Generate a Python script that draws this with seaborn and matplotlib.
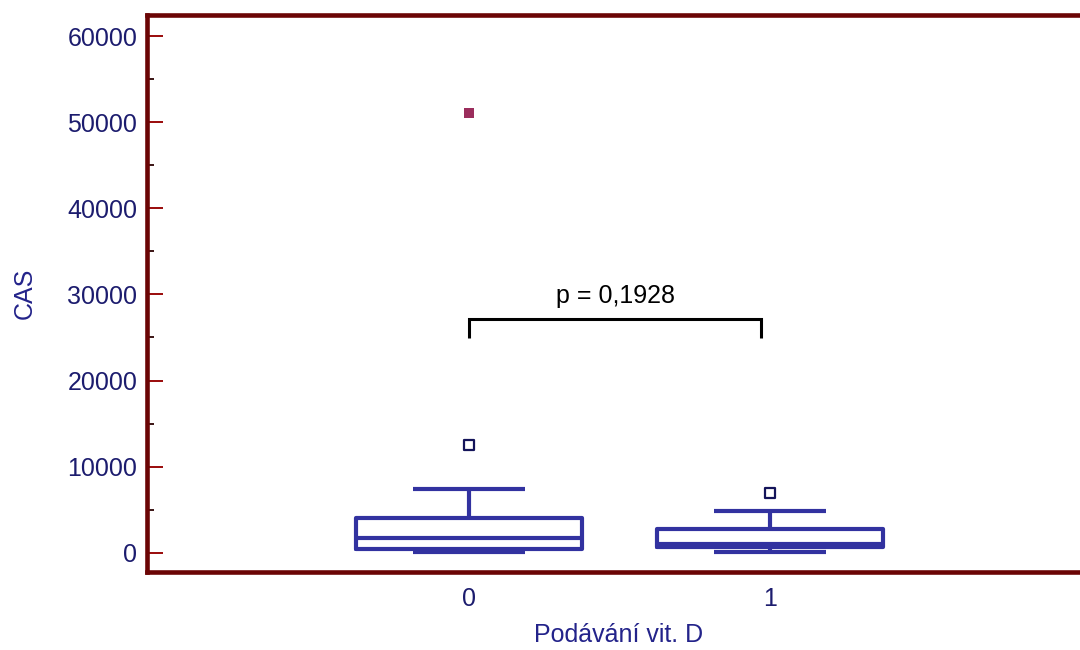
import numpy as np
import pandas as pd
import seaborn as sns
import matplotlib.pyplot as plt
from matplotlib.ticker import MultipleLocator

# Summary values per group of "Podávání vit. D"
groups = ["0", "1"]
whisker_low = [50, 50]
quartile_1 = [395, 627]
medians = [1672, 1010]
quartile_3 = [3995, 2718]
whisker_high = [7360, 4880]
outliers = [[12500, 51100], [6970]]

p_label = "p = 0,1928"
bracket_low = 24950
bracket_high = 27100
p_text_y = 28950

# Samples whose quartiles and whisker ends reproduce the summary values
rows = []
for g, lo, q1, med, q3, hi, out in zip(groups, whisker_low, quartile_1, medians,
                                       quartile_3, whisker_high, outliers):
    sample = [lo] + [q1] * 3 + [med] * 3 + [q3] * 3 + [hi] + list(out)
    rows += [(g, v) for v in sample]
df = pd.DataFrame(rows, columns=["vitD", "CAS"])

# Classify points beyond the whiskers: outside (1.5 IQR) and far out (3 IQR)
near_rows, far_rows = [], []
for g, sub in df.groupby("vitD"):
    q1v, q3v = np.percentile(sub["CAS"], [25, 75])
    iqr = q3v - q1v
    for v in sub["CAS"]:
        if v > q3v + 3 * iqr or v < q1v - 3 * iqr:
            far_rows.append((g, v))
        elif v > q3v + 1.5 * iqr or v < q1v - 1.5 * iqr:
            near_rows.append((g, v))
near_df = pd.DataFrame(near_rows, columns=["vitD", "CAS"])
far_df = pd.DataFrame(far_rows, columns=["vitD", "CAS"])

sns.set_style("white")
plt.rcParams["font.family"] = ["Liberation Sans", "DejaVu Sans"]

box_color = "#3232A0"
spine_color = "#6B0505"
label_color = "#1C1C6E"

fig = plt.figure(figsize=(10.8, 6.5), dpi=100)
ax = fig.add_axes([147 / 1080, 78 / 650, 943 / 1080, 557 / 650])

line_props = dict(solid_capstyle="butt")
sns.boxplot(data=df, x="vitD", y="CAS", order=groups, width=0.75, fill=False,
            color=box_color, linecolor=box_color, linewidth=3.0,
            showfliers=False, whis=1.5,
            whiskerprops=line_props, capprops=line_props,
            medianprops=line_props, ax=ax)

sns.stripplot(data=near_df, x="vitD", y="CAS", order=groups, jitter=False,
              marker="s", size=7, color="white", edgecolor="#14145A",
              linewidth=1.6, ax=ax)
sns.stripplot(data=far_df, x="vitD", y="CAS", order=groups, jitter=False,
              marker="s", size=7.5, color="#9B2D5C", linewidth=0, ax=ax)

# Significance bracket between the two groups
inset = 0.03
ax.plot([0, 0, 1 - inset, 1 - inset],
        [bracket_low, bracket_high, bracket_high, bracket_low],
        color="black", lw=2.2, solid_joinstyle="miter", solid_capstyle="butt")
ax.text((1 - inset) / 2, p_text_y, p_label, ha="center", va="baseline",
        fontsize=18, color="black")

ax.set_xlim(-1.07, 2.063)
ax.set_ylim(-2240, 62450)
ax.yaxis.set_major_locator(MultipleLocator(10000))
ax.yaxis.set_minor_locator(MultipleLocator(5000))

ax.tick_params(axis="y", which="major", left=True, direction="in", length=11.5,
               width=1.4, color="#9A0A0A", labelcolor=label_color,
               labelsize=18, pad=7)
ax.tick_params(axis="y", which="minor", left=True, direction="in", length=5,
               width=1.4, color="#3A1414")
ax.tick_params(axis="x", which="both", length=0, labelcolor=label_color,
               labelsize=18, pad=11)

for side in ["left", "right", "top", "bottom"]:
    ax.spines[side].set_visible(True)
    ax.spines[side].set_color(spine_color)
    ax.spines[side].set_linewidth(3.3)

ax.set_xlabel("Podávání vit. D", fontsize=18, color="#23238A")
ax.set_ylabel("CAS", fontsize=18, color="#23238A")
ax.xaxis.set_label_coords(0.5, -0.091)
ax.yaxis.set_label_coords(-0.117, 0.5)

fig.savefig("out.png", dpi=100)
